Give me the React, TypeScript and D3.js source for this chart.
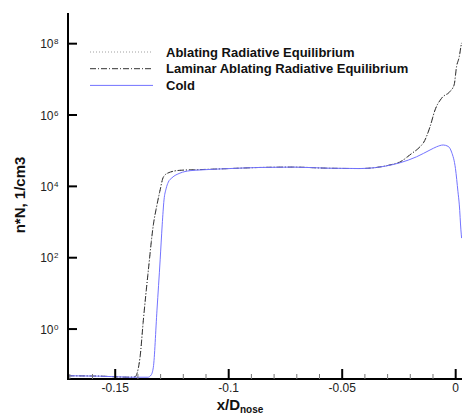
import React from "react";
import * as d3 from "d3";

// x/D_nose values and n*N values (1/cm3)
const coldX = [-0.1708, -0.1567, -0.1435, -0.1356, -0.1342, -0.1332, -0.1316, -0.1302, -0.1293, -0.1285, -0.1276, -0.1266, -0.125, -0.1215, -0.117, -0.1126, -0.0994, -0.0862, -0.0717, -0.0567, -0.0422, -0.0277, -0.0246, -0.0172, -0.0113, -0.0084, -0.0055, -0.0033, -0.0018, -0.0001, 0.001, 0.0016, 0.0023, 0.0026];
const coldLog = [-1.31, -1.32, -1.35, -1.35, -1.29, -1.07, 0.53, 1.94, 2.92, 3.62, 3.93, 4.12, 4.24, 4.37, 4.44, 4.46, 4.5, 4.53, 4.54, 4.51, 4.5, 4.61, 4.66, 4.83, 5.02, 5.11, 5.16, 5.12, 4.96, 4.5, 3.85, 3.48, 2.78, 2.55];

const laminarX = [-0.1708, -0.1567, -0.1435, -0.1413, -0.1391, -0.1376, -0.1354, -0.1332, -0.1316, -0.1302, -0.1288, -0.1266, -0.1215, -0.1126, -0.0994, -0.0862, -0.0717, -0.0567, -0.0422, -0.0277, -0.0246, -0.0202, -0.0157, -0.0143, -0.0113, -0.0091, -0.0062, -0.0025, -0.0007, 0.0004, 0.0016, 0.0023, 0.0026];
const laminarLog = [-1.31, -1.32, -1.35, -1.34, -0.81, 0.25, 1.65, 2.92, 3.48, 3.9, 4.26, 4.38, 4.45, 4.47, 4.5, 4.53, 4.54, 4.51, 4.5, 4.62, 4.68, 4.88, 5.11, 5.21, 5.67, 6.14, 6.47, 6.66, 6.84, 7.36, 7.64, 7.92, 8.02];

const ablatingX = [-0.1708, -0.1567, -0.1435, -0.1413, -0.1391, -0.1376, -0.1354, -0.1332, -0.1316, -0.1302, -0.1288, -0.1266, -0.1215, -0.1126, -0.0994, -0.0862, -0.0717, -0.0567, -0.0422, -0.0277, -0.0246, -0.0202, -0.0157, -0.0143, -0.0113, -0.0091, -0.0062, -0.0025, -0.0007, 0.0004, 0.0016, 0.0023, 0.0026];
const ablatingLog = [-1.31, -1.32, -1.35, -1.34, -0.8, 0.27, 1.67, 2.93, 3.49, 3.91, 4.26, 4.38, 4.45, 4.47, 4.5, 4.53, 4.54, 4.51, 4.5, 4.62, 4.69, 4.89, 5.12, 5.22, 5.68, 6.15, 6.48, 6.67, 6.85, 7.37, 7.65, 7.93, 8.03];

const xTicks = [-0.15, -0.1, -0.05, 0];
const xTickLabels = ["-0.15", "-0.1", "-0.05", "0"];
const xMinor = [-0.17, -0.16, -0.14, -0.13, -0.12, -0.11, -0.09, -0.08, -0.07, -0.06, -0.04, -0.03, -0.02, -0.01];
const yTickExps = [0, 2, 4, 6, 8];

const legendNames = ["Ablating Radiative Equilibrium", "Laminar Ablating Radiative Equilibrium", "Cold"];

export default function App() {
  const W = 462, H = 416;
  const left = 68, right = 462, top = 13, bottom = 379;
  const x = d3.scaleLinear().domain([-0.1708, 0.00278]).range([left, right]);
  const y = d3.scaleLog().domain([Math.pow(10, -1.4), Math.pow(10, 8.86)]).range([bottom, top]);

  const mk = (xs: number[], ls: number[]) =>
    d3.line<[number, number]>()
      .x(d => x(d[0]))
      .y(d => y(Math.pow(10, d[1])))
      .curve(d3.curveMonotoneX)(xs.map((v, i) => [v, ls[i]] as [number, number])) || "";

  const series = [
    { name: legendNames[0], d: mk(ablatingX, ablatingLog), stroke: "#a0a0a0", dash: "1,2", w: 1 },
    { name: legendNames[1], d: mk(laminarX, laminarLog), stroke: "#333333", dash: "6,2,1,2", w: 1 },
    { name: legendNames[2], d: mk(coldX, coldLog), stroke: "#7373ff", dash: "", w: 1 },
  ];

  const font = "Liberation Sans, Arial, sans-serif";

  return (
    <svg width={W} height={H} style={{ position: "absolute", left: 0, top: 0 }} fontFamily={font}>
      <rect width={W} height={H} fill="#fff" />
      <defs>
        <clipPath id="plot">
          <rect x={left} y={top} width={right - left} height={bottom - top} />
        </clipPath>
      </defs>
      <g clipPath="url(#plot)">
        {series.map(s => (
          <path key={s.name} d={s.d} fill="none" stroke={s.stroke} strokeWidth={s.w} strokeDasharray={s.dash || undefined} />
        ))}
      </g>
      {/* legend */}
      {series.map((s, i) => (
        <g key={"lg" + i}>
          <line x1={90} x2={153} y1={52 + i * 16.7} y2={52 + i * 16.7} stroke={s.stroke} strokeWidth={1} strokeDasharray={s.dash || undefined} />
          <text x={166} y={56.5 + i * 16.7} fontSize={13} fontWeight="bold" fill="#111">{s.name}</text>
        </g>
      ))}
      {/* axes */}
      <line x1={left} x2={left} y1={top} y2={bottom + 1} stroke="#000" strokeWidth={2} />
      <line x1={left - 1} x2={right} y1={bottom} y2={bottom} stroke="#000" strokeWidth={2} />
      {xMinor.map(v => (
        <line key={"m" + v} x1={x(v)} x2={x(v)} y1={bottom} y2={bottom - 5} stroke="#777" strokeWidth={1} />
      ))}
      {xTicks.map((v, i) => (
        <g key={"xt" + v}>
          <line x1={x(v)} x2={x(v)} y1={bottom} y2={bottom - 10} stroke="#000" strokeWidth={2} />
          <text x={x(v)} y={392} fontSize={12} textAnchor="middle" fill="#222">{xTickLabels[i]}</text>
        </g>
      ))}
      {yTickExps.map(e => (
        <g key={"yt" + e}>
          <line x1={left} x2={left + 9} y1={y(Math.pow(10, e))} y2={y(Math.pow(10, e))} stroke="#000" strokeWidth={2} />
          <text x={53.5} y={y(Math.pow(10, e)) + 4.5} fontSize={12} textAnchor="end" fill="#222">10</text>
          <text x={54} y={y(Math.pow(10, e)) + 0.5} fontSize={8} fill="#222">{e}</text>
        </g>
      ))}
      {/* axis titles */}
      <text transform="translate(25,195) rotate(-90)" textAnchor="middle" fontSize={15} fontWeight="bold" fill="#111">n*N, 1/cm3</text>
      <text x={240} y={410} textAnchor="middle" fontSize={15} fontWeight="bold" fill="#111">
        x/D<tspan fontSize={10} dy={3}>nose</tspan>
      </text>
    </svg>
  );
}
